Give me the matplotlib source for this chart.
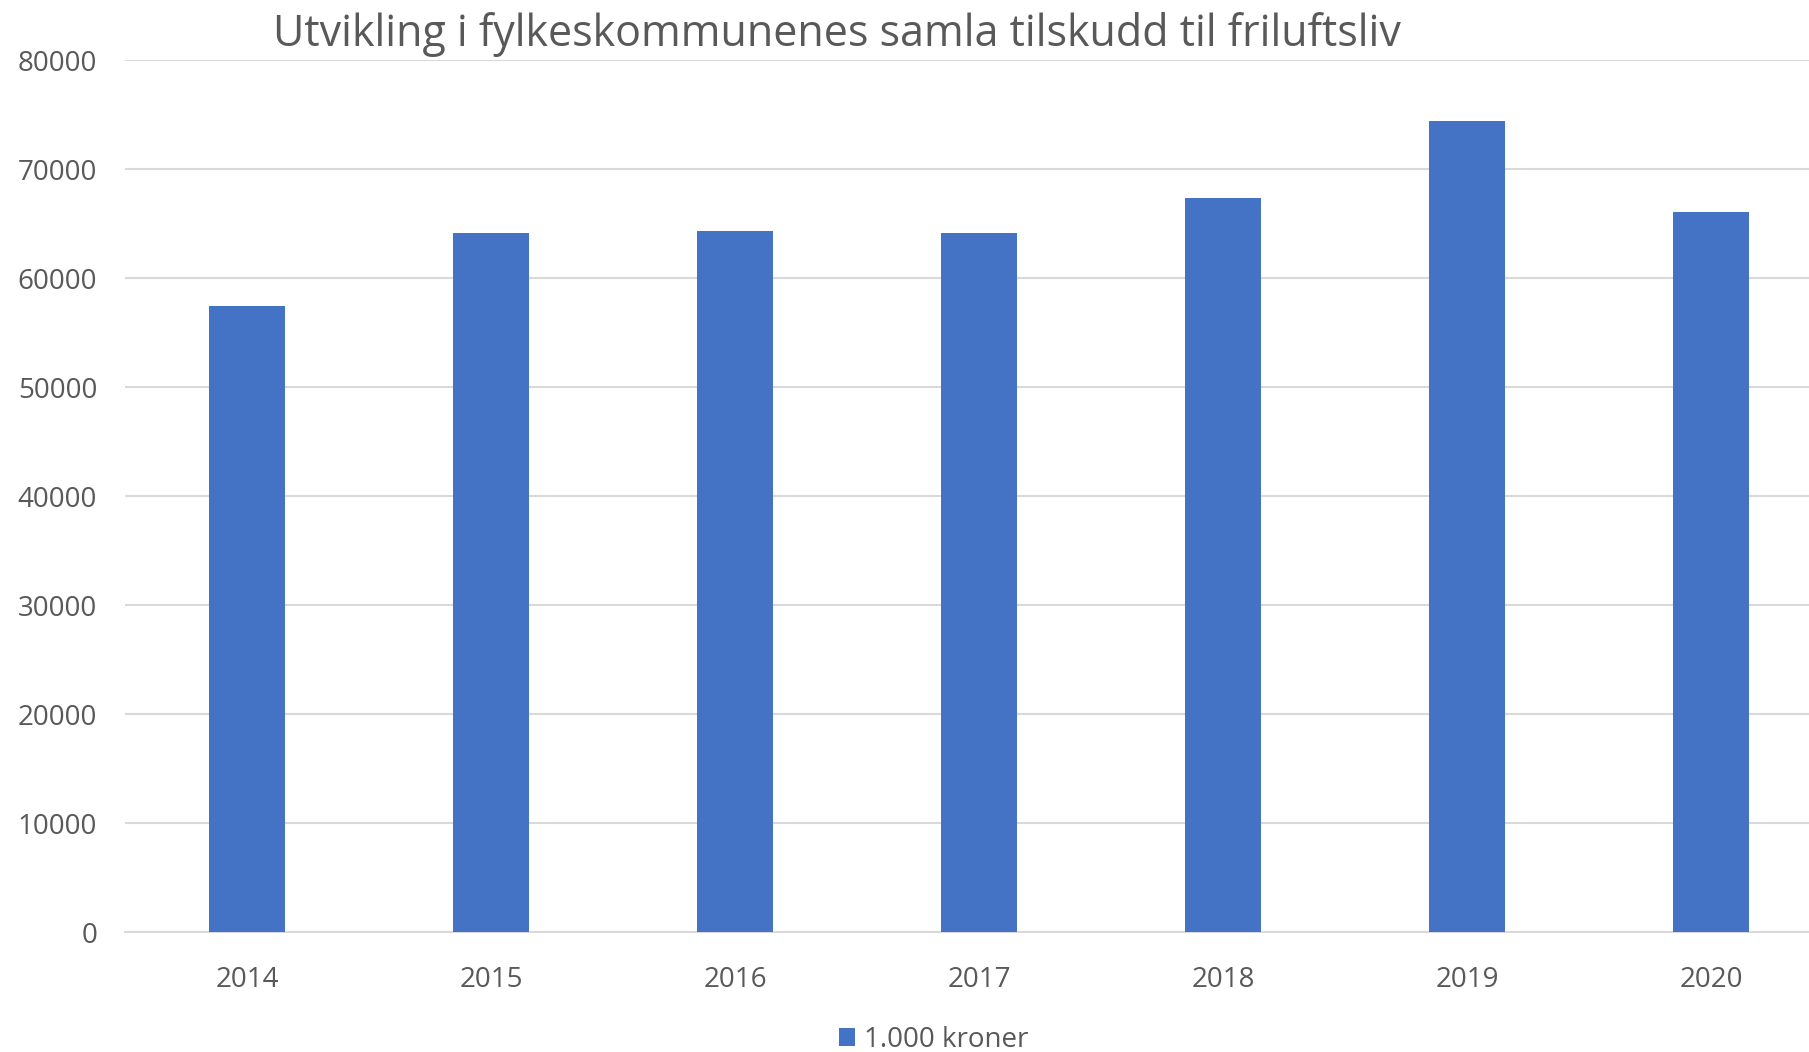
import matplotlib
matplotlib.use("Agg")
import matplotlib.pyplot as plt
from matplotlib.patches import Patch

years = ["2014", "2015", "2016", "2017", "2018", "2019", "2020"]
values = [57500, 64200, 64300, 64200, 67400, 74400, 66100]
yticks = [0, 10000, 20000, 30000, 40000, 50000, 60000, 70000, 80000]
title = "Utvikling i fylkeskommunenes samla tilskudd til friluftsliv"
series_name = "1.000 kroner"

plt.rcParams['font.family'] = ['Open Sans', 'DejaVu Sans']
grey = "#595959"
bar_color = "#4472C4"

fig = plt.figure(figsize=(18.09, 10.52), dpi=100)
ax = fig.add_axes([125/1809, 1-932.3/1052, 1708/1809, (932.3-60.3)/1052])

x = list(range(len(years)))
ax.bar(x, values, width=0.313, color=bar_color, zorder=3)
ax.set_xlim(-0.5, 6.5)
ax.set_ylim(0, 80000)
ax.set_yticks(yticks)
ax.set_yticklabels([str(v) for v in yticks])
ax.set_xticks(x)
ax.set_xticklabels(years)
ax.tick_params(axis='y', length=0, pad=20, labelsize=20, labelcolor=grey)
ax.tick_params(axis='x', length=0, pad=24, labelsize=20, labelcolor=grey)
ax.grid(axis='y', color='#d9d9d9', linewidth=1.5, zorder=0)
for s in ['top', 'right', 'left']:
    ax.spines[s].set_visible(False)
ax.spines['bottom'].set_color('#d9d9d9')
ax.spines['bottom'].set_linewidth(1.5)
ax.set_axisbelow(True)

fig.text(837/1809, 1-34.6/1052, title, ha='center', va='center', fontsize=31, color=grey)

handles = [Patch(facecolor=bar_color, label=series_name)]
fig.legend(handles=handles, loc='center', bbox_to_anchor=(0.516, 1-1040/1052), frameon=False,
           fontsize=20, labelcolor=grey, handlelength=0.6, handleheight=0.6, handletextpad=0.3)

fig.savefig("out.png", dpi=100)
